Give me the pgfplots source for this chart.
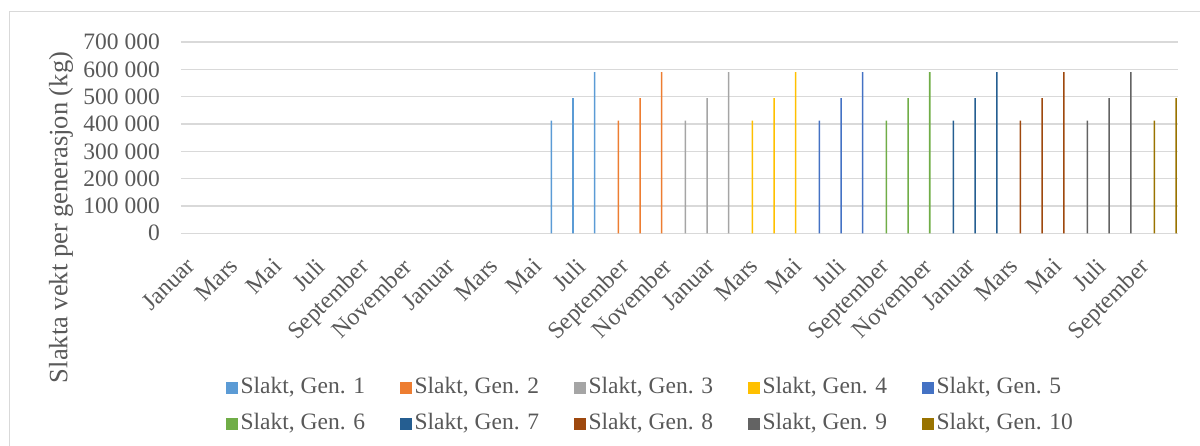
\documentclass[border=0pt]{standalone}
\usepackage{pgfplots}
\pgfplotsset{compat=1.18}
\usepackage{fontspec}
\setmainfont{Liberation Serif}
\definecolor{g1}{HTML}{5B9BD5}
\definecolor{g2}{HTML}{ED7D31}
\definecolor{g3}{HTML}{A5A5A5}
\definecolor{g4}{HTML}{FFC000}
\definecolor{g5}{HTML}{4472C4}
\definecolor{g6}{HTML}{70AD47}
\definecolor{g7}{HTML}{255E91}
\definecolor{g8}{HTML}{9E480E}
\definecolor{g9}{HTML}{636363}
\definecolor{g10}{HTML}{997300}
\definecolor{txt}{HTML}{595959}
\definecolor{gridc}{HTML}{D9D9D9}
\newcommand{\lb}[1]{\makebox[157pt][l]{#1}}
\begin{document}
\begin{tikzpicture}[x=1pt,y=1pt]
\path[use as bounding box] (0,0) rectangle (1200,446);
\draw[gridc, line width=1pt] (9,0) -- (9,434) -- (1200,434);
\node[rotate=90, anchor=center, inner sep=0pt, font=\fontsize{26.5}{30}\selectfont, text=txt] at (61,228.5) {Slakta vekt per generasjon (kg)};
\begin{axis}[
  at={(181pt,212.7pt)}, anchor=south west,
  scale only axis, width=997pt, height=191.3pt,
  xmin=-0.5, xmax=45.5, ymin=0, ymax=700000,
  ybar, bar width=0.07,
  axis line style={draw=none},
  major tick length=0pt,
  ymajorgrids, grid style={gridc, line width=1.3pt},
  ytick={0,100000,200000,300000,400000,500000,600000,700000},
  yticklabels={0,100 000,200 000,300 000,400 000,500 000,600 000,700 000},
  scaled y ticks=false,
  yticklabel style={font=\fontsize{23.5}{27}\selectfont, text=txt, anchor=east, inner sep=0pt, xshift=-21pt},
  xtick={0,2,...,44},
  xticklabels={Januar,Mars,Mai,Juli,September,November,Januar,Mars,Mai,Juli,September,November,Januar,Mars,Mai,Juli,September,November,Januar,Mars,Mai,Juli,September},
  xticklabel style={font=\fontsize{24}{28}\selectfont, text=txt, xshift=-7pt, yshift=-23pt, rotate=45, anchor=north east, inner sep=0pt},
  legend columns=5,
  legend style={at={(axis description cs:0.042,-0.742)}, anchor=north west, draw=none, fill=none,
    font=\fontsize{23.5}{27}\selectfont, text=txt,
    nodes={inner xsep=2.5pt, inner ysep=0pt, text height=16pt, text depth=5pt},
    /tikz/row sep=15pt, /tikz/column sep=0pt},
  legend image code/.code={\fill[#1] (0pt,-6pt) rectangle (12pt,6pt);},
]
\addplot[fill=g1, draw=none, bar shift=-0.414] coordinates {(17,412000) (18,495000) (19,590000)};
\addplot[fill=g2, draw=none, bar shift=-0.322] coordinates {(20,412000) (21,495000) (22,590000)};
\addplot[fill=g3, draw=none, bar shift=-0.230] coordinates {(23,412000) (24,495000) (25,590000)};
\addplot[fill=g4, draw=none, bar shift=-0.138] coordinates {(26,412000) (27,495000) (28,590000)};
\addplot[fill=g5, draw=none, bar shift=-0.046] coordinates {(29,412000) (30,495000) (31,590000)};
\addplot[fill=g6, draw=none, bar shift=0.046] coordinates {(32,412000) (33,495000) (34,590000)};
\addplot[fill=g7, draw=none, bar shift=0.138] coordinates {(35,412000) (36,495000) (37,590000)};
\addplot[fill=g8, draw=none, bar shift=0.230] coordinates {(38,412000) (39,495000) (40,590000)};
\addplot[fill=g9, draw=none, bar shift=0.322] coordinates {(41,412000) (42,495000) (43,590000)};
\addplot[fill=g10, draw=none, bar shift=0.414] coordinates {(44,412000) (45,495000)};
\legend{\lb{Slakt, Gen. 1},\lb{Slakt, Gen. 2},\lb{Slakt, Gen. 3},\lb{Slakt, Gen. 4},\lb{Slakt, Gen. 5},\lb{Slakt, Gen. 6},\lb{Slakt, Gen. 7},\lb{Slakt, Gen. 8},\lb{Slakt, Gen. 9},\lb{Slakt, Gen. 10}}
\end{axis}
\end{tikzpicture}
\end{document}
